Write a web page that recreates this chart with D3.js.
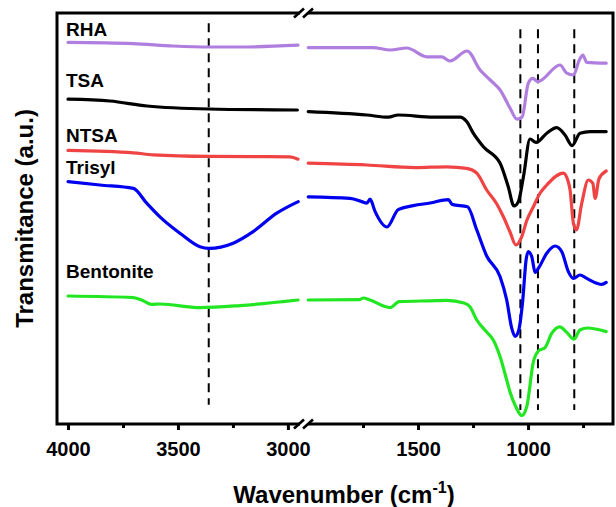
<!DOCTYPE html>
<html>
<head>
<meta charset="utf-8">
<script src="https://cdn.jsdelivr.net/npm/d3@7"></script>
<style>
body { margin: 0; background: #fff; }
text { font-family: "Liberation Sans", Arial, sans-serif; font-weight: bold; fill: #000; }
</style>
</head>
<body>
<svg id="chart" width="616" height="507"></svg>
<script>
// FTIR spectra, wavenumber axis broken between ~2950 and 2000 cm-1
// each point is [wavenumber, transmittance (a.u., offset per sample)]

var rhaLeft = [[4000,95.4],[3704,95.1],[3522,94.5],[3359,94.25],[3218,94.25],[2954,94.7]];
var rhaRight = [[1999,94.1],[1705,94.1],[1627,93.5],[1551,94.0],[1460,91.8],[1392,91.8],[1355,90.75],
  [1277,93.25],[1218,88.5],[1172,86],[1127,83.5],[1082,79],[1050,76.2],[1027,76.75],[999,85.2],[979,86.4],
  [955,85.6],[855,89.75],[824,87.7],[794,87.25],[767,91],[751,92.25],[733,90.4],[645,90.2]];

var tsaLeft = [[4000,81.2],[3809,80.75],[3641,79.5],[3359,78.75],[2957,78.5]];
var tsaRight = [[1999,78.1],[1733,77.25],[1635,76.7],[1590,77.25],[1430,76.7],[1309,76.7],[1279,75.6],
  [1249,72.7],[1203,69.3],[1127,65.2],[1090,59.3],[1064,54.5],[1044,55.6],[1021,61.8],[991,71.25],
  [964,70.4],[915,72.7],[870,74.1],[832,72.25],[800,69.6],[764,72.7],[718,73.1],[645,73.1]];

var ntsaLeft = [[4000,68.4],[3704,67.8],[3612,67.3],[3359,66.9],[2991,66.8],[2954,66.2]];
var ntsaRight = [[1999,65.2],[1733,64.75],[1514,64.1],[1370,64.3],[1279,63.9],[1233,62.7],[1188,58.5],
  [1142,55],[1112,51.8],[1082,48],[1055,44.75],[1029,46.8],[1005,51],[976,54.3],[945,57.75],[915,59.75],
  [840,62.7],[817,60.5],[809,58.5],[794,50.2],[780,48.5],[756,55.2],[726,61],[706,60.2],[695,56.4],
  [678,61.25],[645,63.25]];

var trisylLeft = [[4000,60.6],[3855,59.75],[3703,58.9],[3642,55.2],[3582,51.8],[3491,47.7],[3400,44.3],
  [3359,43.9],[3249,45.2],[3158,48.1],[3051,52.7],[2953,55.6]];
var trisylRight = [[1999,56.8],[1809,56.4],[1756,55.6],[1733,55.2],[1718,56.2],[1695,53.1],[1641,49.25],
  [1590,53.6],[1521,54.6],[1445,55.25],[1362,56.1],[1345,54.9],[1275,54.3],[1233,48.5],[1188,42],
  [1127,36.8],[1097,31],[1074,23.9],[1059,21.9],[1044,23.1],[1024,31],[1009,41],[999,43.1],[983,41.8],
  [968,37.9],[949,39.3],[915,42.7],[877,44.5],[847,43.1],[817,38.1],[794,36.4],[764,37.25],[733,36.4],
  [688,35.2],[665,34.9],[645,35.4]];

var bentLeft = [[4000,32],[3703,31.6],[3658,30.8],[3620,29.9],[3582,30],[3400,29.1],[3218,29.6],[2954,31]];
var bentRight = [[1999,31],[1764,31.1],[1749,31.5],[1718,31],[1627,29.1],[1586,30.6],[1445,30.8],
  [1370,30.9],[1291,30.25],[1264,29.3],[1233,26],[1188,23],[1158,21],[1127,16.8],[1097,11],[1082,8],
  [1055,4.25],[1029,2.1],[1006,4.3],[976,15.5],[953,18.25],[923,19.1],[892,22.7],[856,24.3],[824,22.9],
  [792,21.2],[764,23.5],[730,24],[645,23.1]];

var names = ["RHA", "TSA", "NTSA", "Trisyl", "Bentonite"];
var colors = ["#b07ede", "#000000", "#f04444", "#0000f0", "#22e622"];
var labelLevels = [97, 84.2, 70.5, 62.5, 36.5];
var leftData = [rhaLeft, tsaLeft, ntsaLeft, trisylLeft, bentLeft];
var rightData = [rhaRight, tsaRight, ntsaRight, trisylRight, bentRight];

var dashLeft = [3360];
var dashRight = [1035, 955, 790];
var dashLeftSpan = [100.2, 4.8];
var dashRightSpan = [98.7, 3.5];

var majorLeft = [4000, 3500, 3000], minorLeft = [3750, 3250];
var majorRight = [1500, 1000], minorRight = [1750, 1250, 750];

var plotTop = 13, plotBottom = 424, plotLeft = 57, plotRight = 613;

var xL = d3.scaleLinear().domain([4050, 2945]).range([plotLeft, 300]);
var xR = d3.scaleLinear().domain([2000, 614]).range([308, plotRight]);
var y = d3.scaleLinear().domain([0, 100]).range([plotBottom, 24]);

var svg = d3.select("#chart");

// dashed guide lines
var guides = svg.append("g")
    .attr("stroke", "#000").attr("stroke-width", 2).attr("stroke-dasharray", "9,6");
guides.selectAll(".dashL").data(dashLeft).enter().append("line")
    .attr("x1", function(d) { return xL(d); }).attr("x2", function(d) { return xL(d); })
    .attr("y1", y(dashLeftSpan[0])).attr("y2", y(dashLeftSpan[1]));
guides.selectAll(".dashR").data(dashRight).enter().append("line")
    .attr("x1", function(d) { return xR(d); }).attr("x2", function(d) { return xR(d); })
    .attr("y1", y(dashRightSpan[0])).attr("y2", y(dashRightSpan[1]));

var lineL = d3.line().x(function(d) { return xL(d[0]); }).y(function(d) { return y(d[1]); }).curve(d3.curveMonotoneX);
var lineR = d3.line().x(function(d) { return xR(d[0]); }).y(function(d) { return y(d[1]); }).curve(d3.curveMonotoneX);

names.forEach(function(n, i) {
  [[leftData[i], lineL], [rightData[i], lineR]].forEach(function(p) {
    svg.append("path")
      .attr("d", p[1](p[0]))
      .attr("fill", "none")
      .attr("stroke", colors[i])
      .attr("stroke-width", 3.2)
      .attr("stroke-linejoin", "round")
      .attr("stroke-linecap", "round");
  });
  svg.append("text")
    .attr("x", xL(4000) - 2)
    .attr("y", y(labelLevels[i]))
    .style("font-size", "19px")
    .text(n);
});

// frame with break marks
var frame = svg.append("g").attr("stroke", "#000").attr("stroke-width", 3).attr("fill", "none");
var bx0 = xL.range()[1], bx1 = xR.range()[0];
frame.append("path").attr("d", "M" + bx0 + "," + plotTop + "H" + plotLeft + "V" + plotBottom + "H" + bx0);
frame.append("path").attr("d", "M" + bx1 + "," + plotTop + "H" + plotRight + "V" + plotBottom + "H" + bx1);
[plotTop, plotBottom].forEach(function(yy) {
  [bx0 - 1, bx1].forEach(function(xx) {
    frame.append("line").attr("x1", xx - 5).attr("y1", yy + 4.5).attr("x2", xx + 5).attr("y2", yy - 4.5)
      .attr("stroke-width", 2.6);
  });
});

function axis(scale, major, minor) {
  var g = svg.append("g").attr("transform", "translate(0," + plotBottom + ")");
  g.call(d3.axisBottom(scale).tickValues(major).tickSize(6).tickPadding(12).tickFormat(d3.format("d")));
  g.select(".domain").remove();
  var m = svg.append("g").attr("transform", "translate(0," + plotBottom + ")");
  m.call(d3.axisBottom(scale).tickValues(minor).tickSize(4).tickFormat(""));
  m.select(".domain").remove();
  svg.selectAll(".tick line").attr("stroke-width", 3);
  g.selectAll("text").style("font-size", "20px").style("font-family", "'Liberation Sans', Arial, sans-serif");
}
axis(xL, majorLeft, minorLeft);
axis(xR, majorRight, minorRight);

// axis titles
var xt = svg.append("text").attr("x", 344).attr("y", 503).attr("text-anchor", "middle").style("font-size", "24px");
xt.append("tspan").text("Wavenumber (cm");
xt.append("tspan").attr("dy", -10).style("font-size", "16px").text("-1");
xt.append("tspan").attr("dy", 10).text(")");

svg.append("text")
    .attr("transform", "translate(33," + ((plotTop + plotBottom) / 2) + ") rotate(-90)")
    .attr("text-anchor", "middle")
    .style("font-size", "24px")
    .text("Transmitance (a.u.)");
</script>
</body>
</html>
